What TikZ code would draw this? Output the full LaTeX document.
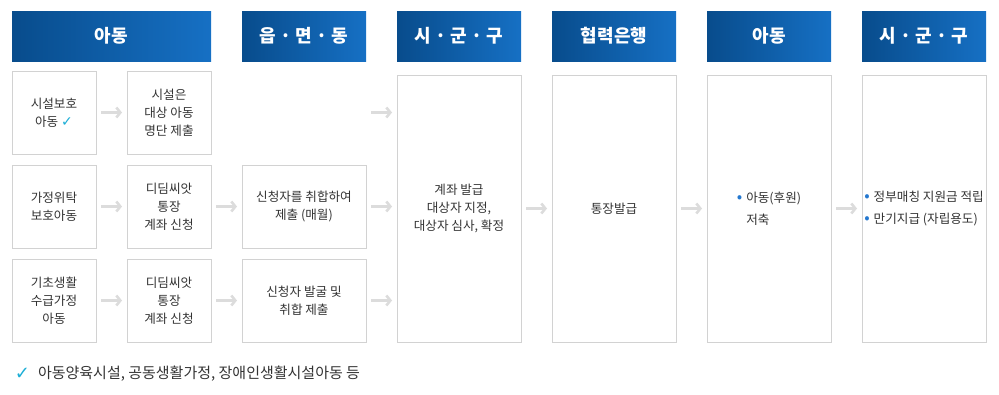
\documentclass[tikz,border=0pt]{standalone}
\usepackage{fontspec}
\setmainfont{Noto Sans CJK KR}
\newfontfamily\symfont{DejaVu Sans}
\usetikzlibrary{arrows.meta, positioning}
\definecolor{hdrLeft}{RGB}{8,76,140}
\definecolor{hdrRight}{RGB}{22,112,196}
\definecolor{boxLine}{RGB}{210,210,210}
\definecolor{arrGray}{RGB}{220,220,220}
\definecolor{txtGray}{RGB}{51,51,51}
\definecolor{chkCyan}{RGB}{28,174,214}
\definecolor{bulBlue}{RGB}{36,120,208}
\newcommand{\chk}{{\symfont\fontsize{14}{14}\selectfont\color{chkCyan}✓}}
\newcommand{\bul}{{\color{bulBlue}\fontsize{16}{16}\selectfont\raisebox{-0.5pt}{•}}\hspace{4pt}}
\tikzset{
    >=Latex,
    flow_header/.style={
        rectangle,
        left color=hdrLeft,
        right color=hdrRight,
        text=white,
        font=\fontsize{18}{20}\selectfont\bfseries,
        minimum width=124pt,
        minimum height=50pt,
        inner sep=0pt,
        outer sep=0pt
    },
    flow_box/.style={
        rectangle,
        draw=boxLine,
        line width=1pt,
        fill=white,
        text=txtGray,
        font=\fontsize{12.6}{18}\selectfont,
        minimum width=84pt,
        minimum height=83pt,
        inner sep=2pt,
        outer sep=0pt,
        align=center
    },
    flow_wide/.style={
        flow_box,
        minimum width=124pt
    },
    flow_tall/.style={
        flow_box,
        minimum width=124pt,
        minimum height=267pt
    },
    flow_list/.style={
        flow_tall,
        align=left,
        font=\fontsize{12.6}{22}\selectfont
    },
    flow_arrow/.style={
        -{Straight Barb[length=4pt, width=10pt]},
        line width=2.6pt,
        draw=arrGray,
        shorten >=5pt,
        shorten <=5pt
    },
    flow_note/.style={
        text=txtGray,
        font=\fontsize{15}{17}\selectfont,
        inner sep=0pt,
        outer sep=0pt
    }
}

\begin{document}
\begin{tikzpicture}[x=1pt, y=-1pt]
\useasboundingbox (0,0) rectangle (999,394);

% --- Header row ---
\node[flow_header, minimum width=199pt, anchor=north west] (hChild) at (12,11) {아동};
\node[flow_header, right=31pt of hChild] (hTown) {읍 · 면 · 동};
\node[flow_header, right=31pt of hTown] (hCity) {시 · 군 · 구};
\node[flow_header, right=31pt of hCity] (hBank) {협력은행};
\node[flow_header, right=31pt of hBank] (hKid) {아동};
\node[flow_header, right=31pt of hKid] (hCity2) {시 · 군 · 구};

% --- Children (three rows) ---
\node[flow_box, below=10pt of hChild.south west, anchor=north west] (facKid) {시설보호\\아동 \chk};
\node[flow_box, right=31pt of facKid] (facList) {시설은\\대상 아동\\명단 제출};
\node[flow_box, below=11pt of facKid] (fosterKid) {가정위탁\\보호아동};
\node[flow_box, right=31pt of fosterKid] (fosterApply) {디딤씨앗\\통장\\계좌 신청};
\node[flow_box, below=11pt of fosterKid] (basicKid) {기초생활\\수급가정\\아동};
\node[flow_box, right=31pt of basicKid] (basicApply) {디딤씨앗\\통장\\계좌 신청};

% --- Town office ---
\node[flow_wide, right=31pt of fosterApply] (townMonthly) {신청자를 취합하여\\제출 (매월)};
\node[flow_wide, right=31pt of basicApply] (townFind) {신청자 발굴 및\\취합 제출};
\coordinate (townGap) at (facList.east -| townMonthly.east);

% --- Tall columns ---
\node[flow_tall, below=14pt of hCity] (cityIssue) {계좌 발급\\대상자 지정,\\대상자 심사, 확정};
\node[flow_tall, below=14pt of hBank] (bankIssue) {통장발급};
\node[flow_list, below=14pt of hKid] (kidSave) {\bul 아동(후원)\\\phantom{\bul}저축};
\node[flow_list, below=14pt of hCity2] (cityMatch) {\bul 정부매칭 지원금 적립\\\bul 만기지급 (자립용도)};

% --- Arrows ---
\draw[flow_arrow] (facKid) -- (facList);
\draw[flow_arrow] (fosterKid) -- (fosterApply);
\draw[flow_arrow] (basicKid) -- (basicApply);
\draw[flow_arrow] (fosterApply) -- (townMonthly);
\draw[flow_arrow] (basicApply) -- (townFind);
\draw[flow_arrow] (townGap) -- (townGap -| cityIssue.west);
\draw[flow_arrow] (townMonthly.east) -- (townMonthly.east -| cityIssue.west);
\draw[flow_arrow] (townFind.east) -- (townFind.east -| cityIssue.west);
\draw[flow_arrow] (cityIssue) -- (bankIssue);
\draw[flow_arrow] (bankIssue) -- (kidSave);
\draw[flow_arrow] (kidSave) -- (cityMatch);

% --- Footnote ---
\node[flow_note, anchor=west] (noteText) at (38,374) {아동양육시설, 공동생활가정, 장애인생활시설아동 등};
\node[flow_note, left=8pt of noteText, text=chkCyan, font=\symfont\fontsize{18}{18}\selectfont] (noteChk) {✓};

\end{tikzpicture}
\end{document}
